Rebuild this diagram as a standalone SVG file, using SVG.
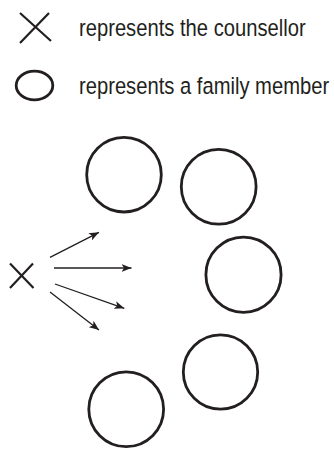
<svg xmlns="http://www.w3.org/2000/svg" width="334" height="449" viewBox="0 0 334 449">
<style>
.t{font-family:"Liberation Sans",Arial,sans-serif;font-size:20.2px;fill:#231f20}
.c{fill:none;stroke:#231f20;stroke-width:2.8}
.x{stroke:#231f20;stroke-width:2.2;fill:none}
.a{stroke:#231f20;stroke-width:1.3;fill:none;marker-end:url(#ah)}
</style>
<defs>
<marker id="ah" viewBox="0 0 10 8" refX="10" refY="4" markerWidth="10" markerHeight="8" markerUnits="userSpaceOnUse" orient="auto">
<path d="M0,0 L10,4 L0,8 L2.5,4 Z" fill="#231f20"/>
</marker>
</defs>
<g id="legend">
<g id="legend-counsellor">
<path class="x" d="M20,13 L51,41 M49,13 L20,43"/>
<text class="t" transform="translate(79,35.5) scale(1,1.15)" x="0" y="0">represents the counsellor</text>
</g>
<g id="legend-family">
<ellipse class="c" cx="34.5" cy="85.5" rx="18.3" ry="14.3"/>
<text class="t" transform="translate(79,93.5) scale(1,1.15)" x="0" y="0">represents a family member</text>
</g>
</g>
<g id="counsellor">
<path class="x" d="M10,263.5 L33.5,288 M33,263.5 L10,288"/>
</g>
<g id="member1"><circle class="c" cx="124" cy="174.7" r="37.3"/></g>
<g id="member2"><circle class="c" cx="218.7" cy="186.7" r="37.4"/></g>
<g id="member3"><circle class="c" cx="243.5" cy="274.7" r="37.6"/></g>
<g id="member4"><circle class="c" cx="220.5" cy="372" r="37.2"/></g>
<g id="member5"><circle class="c" cx="126.2" cy="409.3" r="37.4"/></g>
<g id="connectors">
<line class="a" x1="50" y1="257.3" x2="99" y2="232.3"/>
<line class="a" x1="54" y1="268" x2="131.5" y2="268"/>
<line class="a" x1="55" y1="284" x2="124.3" y2="308.3"/>
<line class="a" x1="50" y1="292" x2="99" y2="330"/>
</g>
</svg>
